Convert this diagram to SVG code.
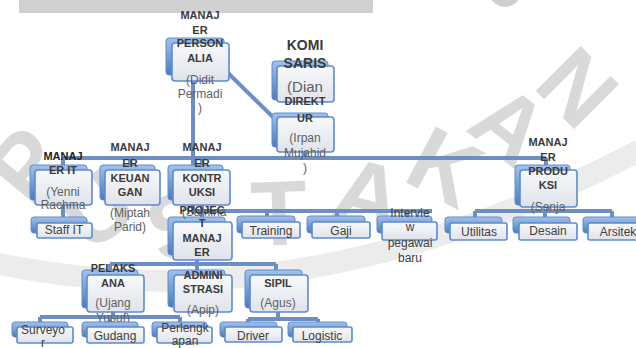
<svg xmlns="http://www.w3.org/2000/svg" width="636" height="348" viewBox="0 0 636 348">
<defs>
<linearGradient id="gb" x1="0" y1="0" x2="0" y2="1"><stop offset="0" stop-color="#a3c2ea"/><stop offset="1" stop-color="#4a7bc0"/></linearGradient>
<linearGradient id="gf" x1="0" y1="0" x2="0" y2="1"><stop offset="0" stop-color="#f8f9fb"/><stop offset="1" stop-color="#dfe3ea"/></linearGradient>
<style>
.back{fill:url(#gb);stroke:#5e8ccc;stroke-width:1}
.front{fill:url(#gf);stroke:#5b8bd3;stroke-width:1.6}
.t{font-family:"Liberation Sans",Arial,sans-serif;font-weight:bold;font-size:11px;fill:#3a3a3a;text-anchor:middle}
.n{font-family:"Liberation Sans",Arial,sans-serif;font-size:12px;fill:#5f5f5f;text-anchor:middle}
.c{font-family:"Liberation Sans",Arial,sans-serif;font-size:12px;fill:#404040;text-anchor:middle}
.wm{font-family:"Liberation Sans",Arial,sans-serif;font-weight:bold;font-size:92px;fill:#d9d9d9;text-anchor:middle}
.cn{stroke:#6b8fc5;stroke-width:4;fill:none}
</style>
</defs>
<rect width="636" height="348" fill="#ffffff"/>
<g id="background">
<rect x="19" y="0" width="354" height="13" fill="#d0d0d0"/>
<circle cx="505" cy="-9" r="16" fill="#cfcfcf"/>
<path d="M -10 262 Q 300 330 640 150" stroke="#ececec" stroke-width="22" fill="none"/>
<text class="wm" transform="translate(50,185) rotate(-50)">P</text>
<text class="wm" transform="translate(115,235) rotate(-35)">U</text>
<text class="wm" transform="translate(190,255) rotate(-20)">S</text>
<text class="wm" transform="translate(280,245) rotate(-2)">T</text>
<text class="wm" transform="translate(360,225) rotate(15)">A</text>
<text class="wm" transform="translate(430,195) rotate(28)">K</text>
<text class="wm" transform="translate(490,150) rotate(38)">A</text>
<text class="wm" transform="translate(555,110) rotate(45)">N</text>
</g>
<g id="connectors" class="cn">
<line x1="193" y1="78" x2="193" y2="211"/>
<line x1="228" y1="73" x2="277" y2="121"/>
<line x1="305" y1="150" x2="305" y2="158"/>
<line x1="63" y1="158" x2="546" y2="158"/>
<line x1="63" y1="158" x2="63" y2="166"/>
<line x1="130" y1="158" x2="130" y2="166"/>
<line x1="202" y1="158" x2="202" y2="166"/>
<line x1="546" y1="158" x2="546" y2="166"/>
<line x1="63" y1="205" x2="63" y2="218"/>
<line x1="193" y1="211" x2="432" y2="211"/>
<line x1="267" y1="211" x2="267" y2="217"/>
<line x1="337" y1="211" x2="337" y2="217"/>
<line x1="407" y1="211" x2="407" y2="217"/>
<line x1="202" y1="205" x2="202" y2="218"/>
<line x1="110" y1="264" x2="276" y2="264"/>
<line x1="110" y1="264" x2="110" y2="271"/>
<line x1="197" y1="258" x2="197" y2="271"/>
<line x1="276" y1="264" x2="276" y2="271"/>
<line x1="40" y1="317" x2="180" y2="317"/>
<line x1="113" y1="310" x2="113" y2="317"/>
<line x1="40" y1="317" x2="40" y2="323"/>
<line x1="110" y1="317" x2="110" y2="323"/>
<line x1="180" y1="317" x2="180" y2="323"/>
<line x1="248" y1="319" x2="318" y2="319"/>
<line x1="278" y1="310" x2="278" y2="319"/>
<line x1="248" y1="319" x2="248" y2="323"/>
<line x1="318" y1="319" x2="318" y2="323"/>
<line x1="475" y1="211" x2="612" y2="211"/>
<line x1="548" y1="205" x2="548" y2="211"/>
<line x1="475" y1="211" x2="475" y2="218"/>
<line x1="545" y1="211" x2="545" y2="218"/>
<line x1="612" y1="211" x2="612" y2="218"/>
</g>
<g id="personalia">
<rect class="back" x="166" y="38" width="58" height="37" rx="3"/>
<rect class="front" x="172" y="43" width="57" height="38" rx="3"/>
<text class="t" x="200" y="19">MANAJ</text>
<text class="t" x="200" y="34">ER</text>
<text class="t" x="200" y="47">PERSON</text>
<text class="t" x="200" y="62">ALIA</text>
<text class="n" x="200" y="84">(Didit</text>
<text class="n" x="200" y="98">Permadi</text>
<text class="n" x="200" y="112">)</text>
</g>
<g id="komisaris">
<rect class="back" x="272" y="61" width="56" height="39" rx="3"/>
<rect class="front" x="277" y="66" width="57" height="36" rx="3"/>
<text class="t" x="305" y="50" style="font-size:14px">KOMI</text>
<text class="t" x="305" y="68" style="font-size:14px">SARIS</text>
<text class="n" x="305" y="92" style="font-size:15px">(Dian</text>
</g>
<g id="direktur">
<rect class="back" x="272" y="113" width="56" height="34" rx="3"/>
<rect class="front" x="277" y="117" width="57" height="35" rx="3"/>
<text class="t" x="305" y="105">DIREKT</text>
<text class="t" x="305" y="122">UR</text>
<text class="n" x="305" y="142">(Irpan</text>
<text class="n" x="305" y="157">Mujahid</text>
<text class="n" x="305" y="172">)</text>
</g>
<g id="manajer-it">
<rect class="back" x="30" y="165" width="57" height="35" rx="3"/>
<rect class="front" x="35" y="170" width="57" height="35" rx="3"/>
<text class="t" x="63" y="160" style="fill:#222">MANAJ</text>
<text class="t" x="63" y="174">ER IT</text>
<text class="n" x="63" y="196">(Yenni</text>
<text class="n" x="63" y="209">Rachma</text>
</g>
<g id="staff-it">
<rect class="back" x="31" y="217" width="56" height="16" rx="3"/>
<rect class="front" x="37" y="223" width="55" height="15" rx="2"/>
<text class="c" x="64" y="234">Staff IT</text>
</g>
<g id="keuangan">
<rect class="back" x="100" y="165" width="55" height="35" rx="3"/>
<rect class="front" x="105" y="170" width="55" height="35" rx="3"/>
<text class="t" x="130" y="151">MANAJ</text>
<text class="t" x="130" y="167">ER</text>
<text class="t" x="130" y="182">KEUAN</text>
<text class="t" x="130" y="196">GAN</text>
<text class="n" x="130" y="217">(Miptah</text>
<text class="n" x="130" y="231">Parid)</text>
</g>
<g id="manajer">
<rect class="back" x="168" y="217" width="57" height="38" rx="3"/>
<rect class="front" x="173" y="222" width="59" height="38" rx="3"/>
<text class="t" x="202" y="242">MANAJ</text>
<text class="t" x="202" y="256">ER</text>
</g>
<g id="kontruksi">
<rect class="back" x="168" y="165" width="55" height="35" rx="3"/>
<rect class="front" x="173" y="170" width="57" height="35" rx="3"/>
<text class="t" x="202" y="151">MANAJ</text>
<text class="t" x="202" y="167">ER</text>
<text class="t" x="202" y="182">KONTR</text>
<text class="t" x="202" y="196">UKSI</text>
<text class="n" x="204" y="216">(Samina</text>
<text class="t" x="202" y="214">PROJEC</text>
<text class="t" x="202" y="227">T</text>
</g>
<g id="training">
<rect class="back" x="237" y="216" width="58" height="17" rx="3"/>
<rect class="front" x="242" y="222" width="58" height="16" rx="2"/>
<text class="c" x="271" y="235">Training</text>
</g>
<g id="gaji">
<rect class="back" x="307" y="216" width="58" height="17" rx="3"/>
<rect class="front" x="312" y="222" width="58" height="16" rx="2"/>
<text class="c" x="341" y="235">Gaji</text>
</g>
<g id="interview">
<rect class="back" x="377" y="216" width="55" height="17" rx="3"/>
<rect class="front" x="382" y="222" width="55" height="18" rx="2"/>
<text class="c" x="410" y="217">Intervie</text>
<text class="c" x="410" y="231">w</text>
<text class="c" x="410" y="247">pegawai</text>
<text class="c" x="410" y="262">baru</text>
</g>
<g id="produksi">
<rect class="back" x="515" y="165" width="55" height="40" rx="3"/>
<rect class="front" x="520" y="170" width="57" height="37" rx="3"/>
<text class="t" x="548" y="146">MANAJ</text>
<text class="t" x="548" y="161">ER</text>
<text class="t" x="548" y="175">PRODU</text>
<text class="t" x="548" y="189">KSI</text>
<text class="n" x="548" y="211">(Senja</text>
</g>
<g id="utilitas">
<rect class="back" x="445" y="217" width="57" height="16" rx="3"/>
<rect class="front" x="450" y="223" width="57" height="17" rx="2"/>
<text class="c" x="479" y="236">Utilitas</text>
</g>
<g id="desain">
<rect class="back" x="513" y="217" width="57" height="16" rx="3"/>
<rect class="front" x="519" y="223" width="58" height="17" rx="2"/>
<text class="c" x="548" y="235">Desain</text>
</g>
<g id="arsitek">
<rect class="back" x="583" y="217" width="57" height="16" rx="3"/>
<rect class="front" x="588" y="223" width="55" height="17" rx="2"/>
<text class="c" x="618" y="236">Arsitek</text>
</g>
<g id="pelaksana">
<rect class="back" x="82" y="270" width="56" height="38" rx="3"/>
<rect class="front" x="87" y="275" width="57" height="37" rx="3"/>
<text class="t" x="113" y="272">PELAKS</text>
<text class="t" x="113" y="287">ANA</text>
<text class="n" x="113" y="307">(Ujang</text>
<text class="n" x="113" y="322">Yusuf)</text>
</g>
<g id="administrasi">
<rect class="back" x="168" y="270" width="57" height="37" rx="3"/>
<rect class="front" x="174" y="275" width="58" height="37" rx="3"/>
<text class="t" x="203" y="279">ADMINI</text>
<text class="t" x="203" y="293">STRASI</text>
<text class="n" x="203" y="314">(Apip)</text>
</g>
<g id="sipil">
<rect class="back" x="245" y="270" width="57" height="38" rx="3"/>
<rect class="front" x="250" y="275" width="58" height="37" rx="3"/>
<text class="t" x="278" y="287">SIPIL</text>
<text class="n" x="278" y="307">(Agus)</text>
</g>
<g id="surveyor">
<rect class="back" x="12" y="322" width="56" height="15" rx="3"/>
<rect class="front" x="17" y="327" width="56" height="16" rx="2"/>
<text class="c" x="43" y="334">Surveyo</text>
<text class="c" x="43" y="347">r</text>
</g>
<g id="gudang">
<rect class="back" x="82" y="322" width="56" height="15" rx="3"/>
<rect class="front" x="87" y="327" width="57" height="16" rx="2"/>
<text class="c" x="115" y="340">Gudang</text>
</g>
<g id="perlengkapan">
<rect class="back" x="152" y="322" width="55" height="15" rx="3"/>
<rect class="front" x="157" y="327" width="55" height="16" rx="2"/>
<text class="c" x="185" y="332">Perlengk</text>
<text class="c" x="185" y="345">apan</text>
</g>
<g id="driver">
<rect class="back" x="220" y="322" width="57" height="15" rx="3"/>
<rect class="front" x="225" y="327" width="57" height="15" rx="2"/>
<text class="c" x="253" y="340">Driver</text>
</g>
<g id="logistic">
<rect class="back" x="288" y="322" width="59" height="15" rx="3"/>
<rect class="front" x="293" y="327" width="59" height="15" rx="2"/>
<text class="c" x="322" y="340">Logistic</text>
</g>
</svg>
